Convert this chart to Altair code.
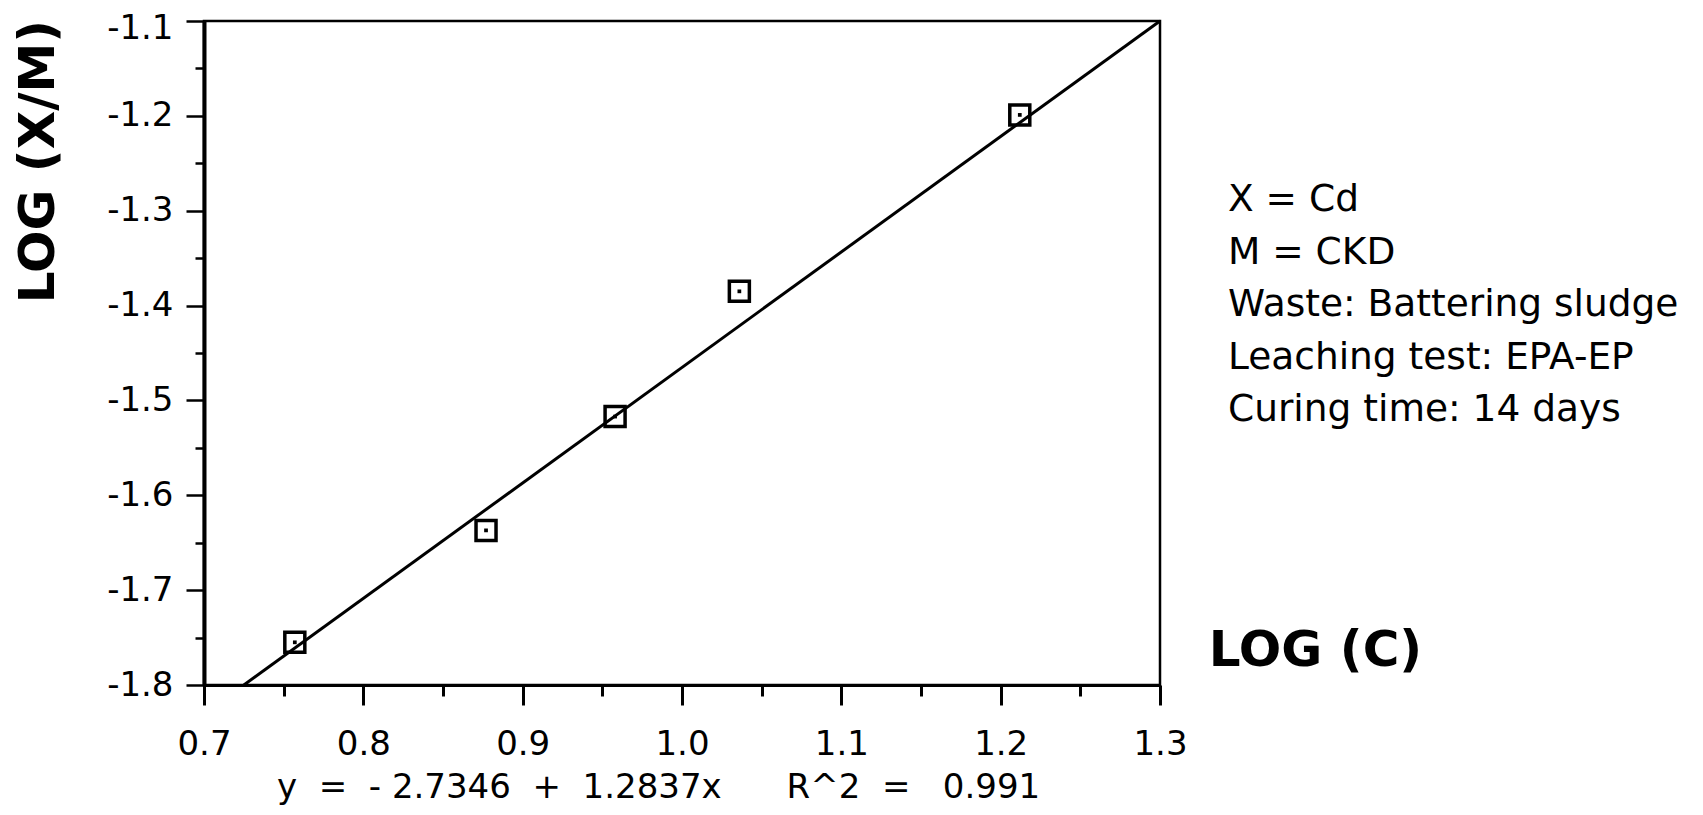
import altair as alt
import pandas as pd

# ---- data ----
log_c = [0.757, 0.877, 0.958, 1.036, 1.212]
log_xm = [-1.755, -1.637, -1.517, -1.385, -1.199]
fit_x = [0.725, 1.300]
fit_y = [-1.800, -1.100]
x_ticks = [0.7, 0.75, 0.8, 0.85, 0.9, 0.95, 1.0, 1.05, 1.1, 1.15, 1.2, 1.25, 1.3]
y_ticks = [-1.8, -1.75, -1.7, -1.65, -1.6, -1.55, -1.5, -1.45, -1.4, -1.35, -1.3, -1.25, -1.2, -1.15, -1.1]
notes = ["X = Cd", "M = CKD", "Waste: Battering sludge", "Leaching test: EPA-EP", "Curing time: 14 days"]
NB = "\u00a0"
equation = ("y" + NB * 2 + "=" + NB * 2 + "-" + NB + "2.7346" + NB * 2 + "+" + NB * 2
            + "1.2837x" + NB * 6 + "R^2" + NB * 2 + "=" + NB * 3 + "0.991")
x_title = "LOG (C)"
y_title = "LOG (X/M)"

pts = pd.DataFrame({"c": log_c, "xm": log_xm})
fit = pd.DataFrame({"c": fit_x, "xm": fit_y})

FONT = "DejaVu Sans"
W, H = 956, 664
major = "abs(datum.value*10 - round(datum.value*10)) < 0.001"
lab = f"{major} ? replace(format(datum.value, '.1f'), '\u2212', '-') : ''"

xs = alt.Scale(domain=[0.7, 1.3], nice=False, zero=False)
ys = alt.Scale(domain=[-1.8, -1.1], nice=False, zero=False)

xaxis = alt.Axis(
    values=x_ticks, labelExpr=lab, grid=False,
    tickSize={"condition": {"test": major, "value": 20}, "value": 11},
    tickWidth=3, tickColor="black", domainWidth=3, domainColor="black",
    labelFont=FONT, labelFontSize=34, labelColor="black", labelPadding=22,
    labelOverlap=False, labelFlush=False,
    title=x_title, titleFont=FONT, titleFontSize=50, titleFontWeight="bold",
    titleColor="black", titleX=1111, titleY=-20, titleAlign="center",
    titleBaseline="alphabetic", titleAngle=0,
)
yaxis = alt.Axis(
    values=y_ticks, labelExpr=lab, grid=False,
    tickSize={"condition": {"test": major, "value": 18}, "value": 9},
    tickWidth=2.5, tickColor="black", domainWidth=4, domainColor="black",
    labelFont=FONT, labelFontSize=34, labelColor="black", labelPadding=13,
    labelOffset={"condition": {"test": "datum.value > -1.12", "value": 7}, "value": 0},
    labelOverlap=False, labelFlush=False,
    title=y_title, titleFont=FONT, titleFontSize=50, titleFontWeight="bold",
    titleColor="black", titleX=-166, titleY=140, titleAlign="center",
    titleBaseline="middle", titleAngle=270,
)

line = alt.Chart(fit).mark_line(color="black", strokeWidth=3).encode(
    x=alt.X("c:Q", scale=xs, axis=xaxis),
    y=alt.Y("xm:Q", scale=ys, axis=yaxis),
)
squares = alt.Chart(pts).mark_point(
    shape="square", filled=False, size=400, strokeWidth=3.5, color="black", opacity=1
).encode(x=alt.X("c:Q", scale=xs), y=alt.Y("xm:Q", scale=ys))
dots = alt.Chart(pts).mark_point(
    shape="square", filled=True, size=14, color="black", opacity=1
).encode(x=alt.X("c:Q", scale=xs), y=alt.Y("xm:Q", scale=ys))

note_text = alt.Chart(pd.DataFrame({"k": [0]})).mark_text(
    align="left", baseline="alphabetic", font=FONT, fontSize=37.5,
    lineHeight=52.5, color="black",
).encode(x=alt.value(1024), y=alt.value(190), text=alt.value(notes))

eq_text = alt.Chart(pd.DataFrame({"k": [0]})).mark_text(
    align="left", baseline="alphabetic", font=FONT, fontSize=34, color="black",
).encode(x=alt.value(73), y=alt.value(777), text=alt.value(equation))

chart = alt.layer(line, squares, dots, note_text, eq_text).properties(
    width=W, height=H, background="white",
    autosize=alt.AutoSizeParams(type="none"),
    padding={"left": 196, "top": 13, "right": 535, "bottom": 122},
).configure_view(stroke="black", strokeWidth=2.5)

chart.save("out.html", embed_options={"renderer": "svg", "actions": False})
